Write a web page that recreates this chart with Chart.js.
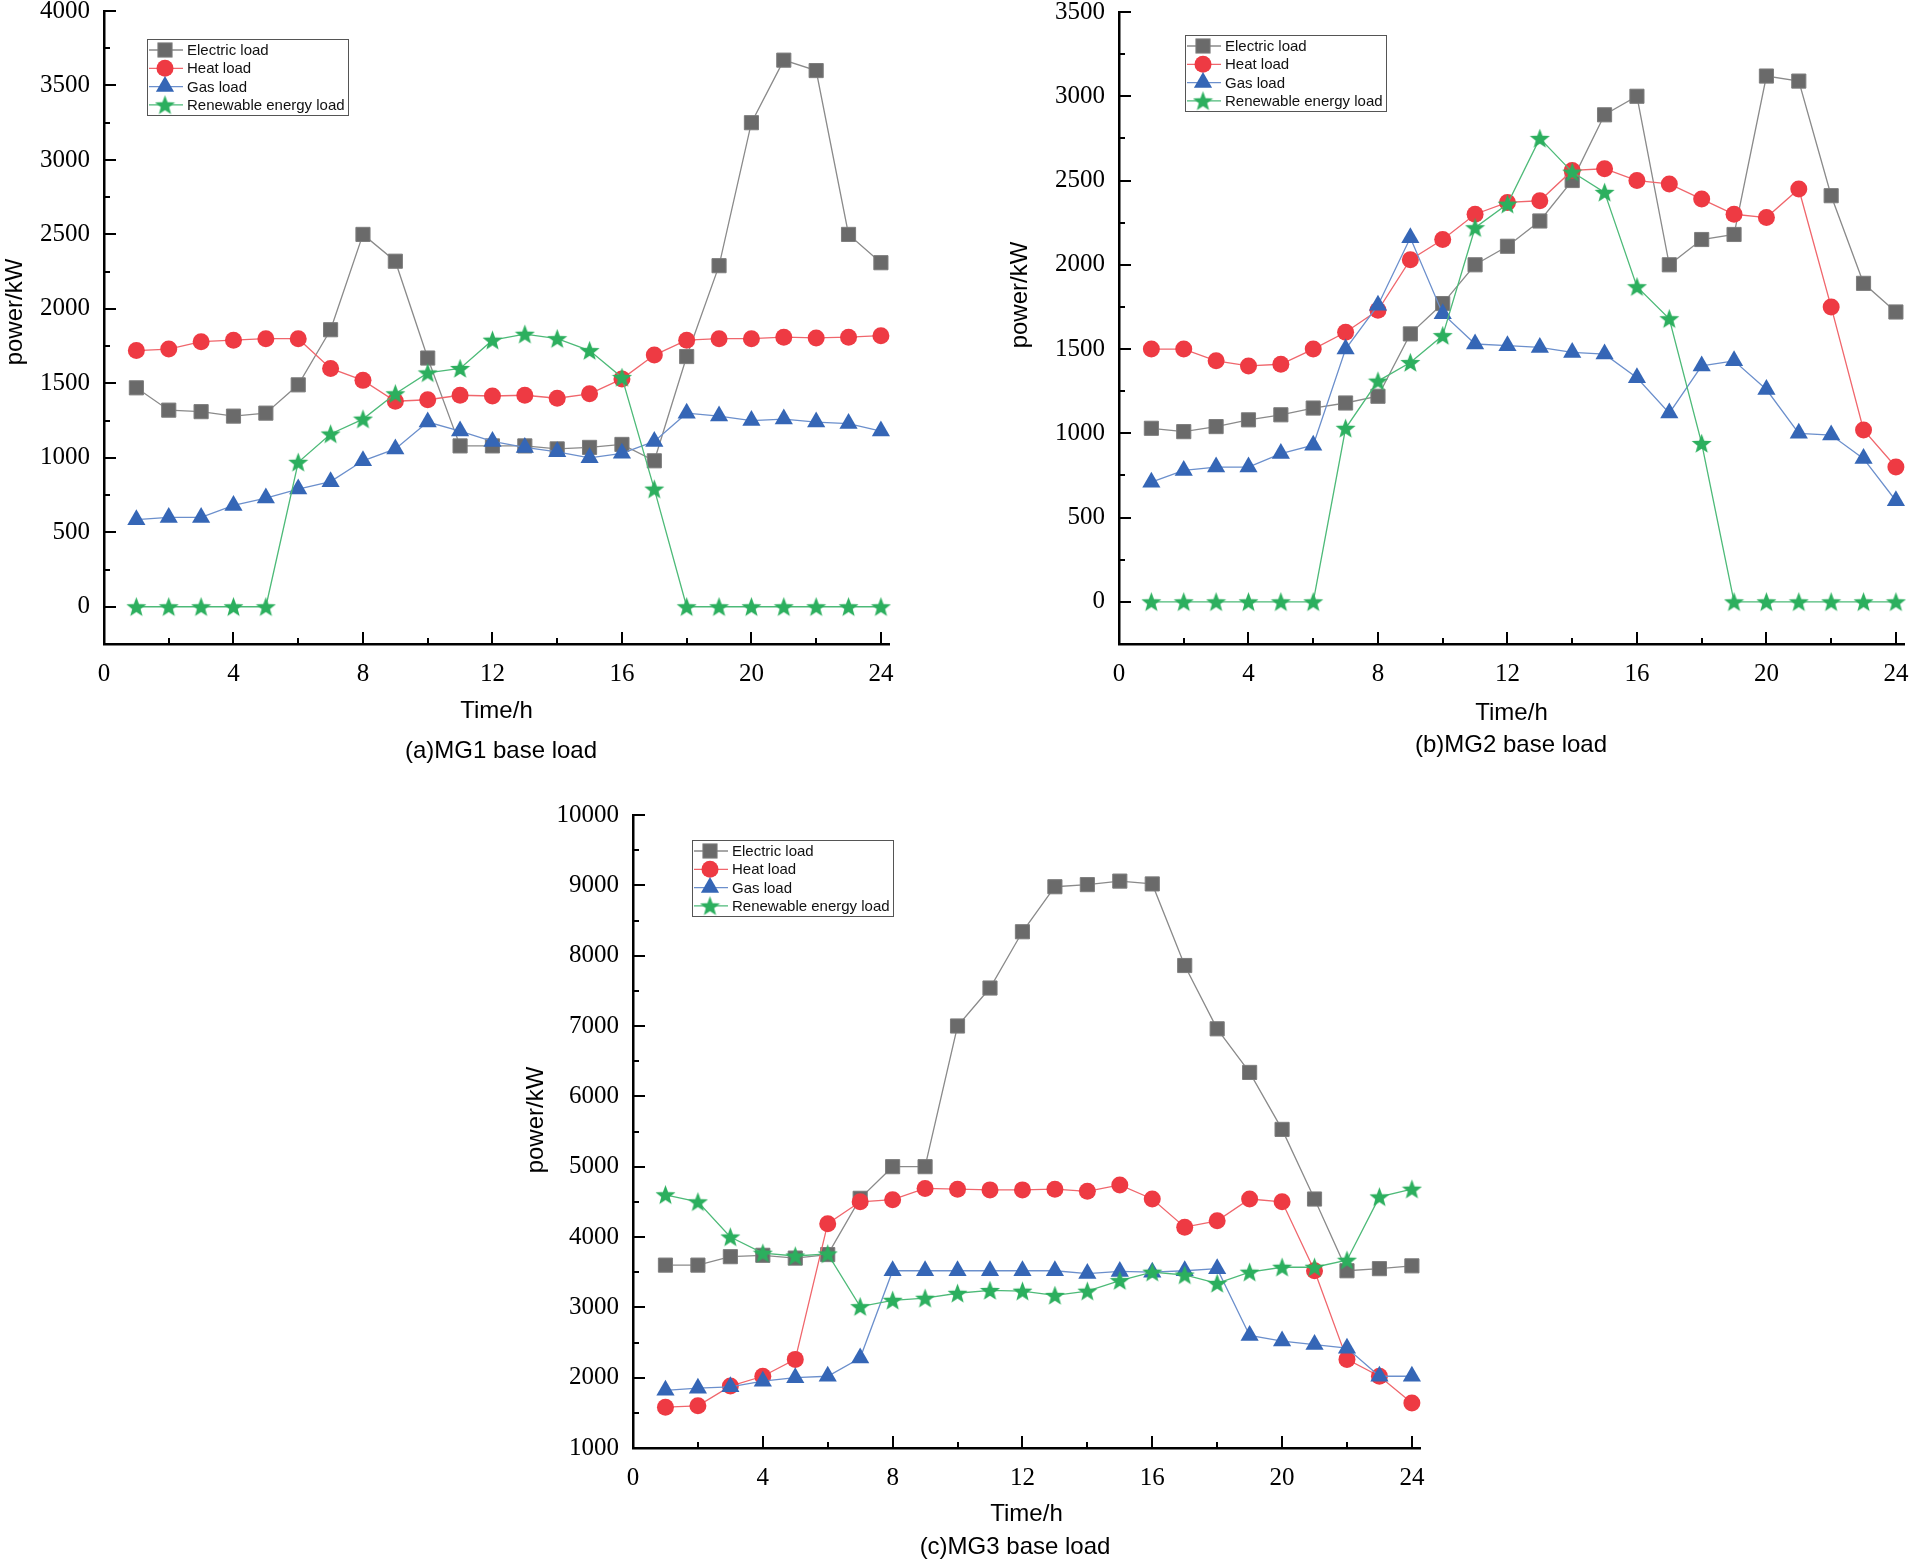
<!DOCTYPE html>
<html>
<head>
<meta charset="utf-8">
<script src="https://cdn.jsdelivr.net/npm/chart.js@4.4.1/dist/chart.umd.min.js"></script>
<style>
html, body { margin: 0; padding: 0; background: #fff; }
#page { position: relative; width: 1915px; height: 1564px; overflow: hidden; background: #fff; }
#page canvas { position: absolute; left: 0; top: 0; }
</style>
</head>
<body>
<div id="page">
  <canvas id="mg1" width="1915" height="1564"></canvas>
  <canvas id="mg2" width="1915" height="1564"></canvas>
  <canvas id="mg3" width="1915" height="1564"></canvas>
</div>
<script>
// ---- data ----
const hours = [1, 2, 3, 4, 5, 6, 7, 8, 9, 10, 11, 12, 13, 14, 15, 16, 17, 18, 19, 20, 21, 22, 23, 24];
const seriesNames = ['Electric load', 'Heat load', 'Gas load', 'Renewable energy load'];

const mg1Electric = [1470, 1320, 1310, 1280, 1300, 1490, 1860, 2500, 2320, 1670, 1080, 1080, 1080, 1060, 1070, 1090, 980, 1680, 2290, 3250, 3670, 3600, 2500, 2310];
const mg1Heat = [1720, 1730, 1780, 1790, 1800, 1800, 1600, 1520, 1380, 1390, 1420, 1415, 1420, 1400, 1430, 1530, 1690, 1790, 1800, 1800, 1810, 1805, 1810, 1820];
const mg1Gas = [585, 600, 600, 680, 730, 790, 840, 980, 1060, 1240, 1180, 1110, 1070, 1040, 1000, 1030, 1110, 1300, 1280, 1250, 1260, 1240, 1230, 1180];
const mg1Renewable = [0, 0, 0, 0, 0, 970, 1160, 1260, 1430, 1570, 1600, 1790, 1830, 1800, 1720, 1540, 790, 0, 0, 0, 0, 0, 0, 0];

const mg2Electric = [1030, 1010, 1040, 1080, 1110, 1150, 1180, 1220, 1590, 1770, 2000, 2110, 2260, 2500, 2890, 3000, 2000, 2150, 2180, 3120, 3090, 2410, 1890, 1720];
const mg2Heat = [1500, 1500, 1430, 1400, 1410, 1500, 1600, 1730, 2030, 2150, 2300, 2370, 2380, 2560, 2570, 2500, 2480, 2390, 2300, 2280, 2450, 1750, 1020, 800];
const mg2Gas = [710, 780, 800, 800, 880, 930, 1500, 1760, 2160, 1710, 1530, 1520, 1510, 1480, 1470, 1330, 1120, 1400, 1430, 1260, 1000, 990, 850, 600];
const mg2Renewable = [0, 0, 0, 0, 0, 0, 1030, 1310, 1420, 1580, 2220, 2360, 2750, 2550, 2430, 1870, 1680, 940, 0, 0, 0, 0, 0, 0];

const mg3Electric = [3600, 3600, 3720, 3740, 3700, 3750, 4550, 5000, 5000, 7000, 7540, 8340, 8980, 9010, 9060, 9020, 7860, 6960, 6340, 5530, 4540, 3520, 3550, 3590];
const mg3Heat = [1580, 1600, 1880, 2020, 2260, 4190, 4500, 4530, 4690, 4680, 4670, 4670, 4680, 4650, 4740, 4540, 4140, 4230, 4540, 4500, 3520, 2260, 2020, 1640];
const mg3Gas = [1820, 1850, 1870, 1950, 2000, 2020, 2280, 3520, 3520, 3520, 3520, 3520, 3520, 3480, 3510, 3500, 3520, 3550, 2600, 2520, 2470, 2420, 2020, 2020];
const mg3Renewable = [4600, 4500, 4000, 3770, 3730, 3760, 3010, 3100, 3130, 3200, 3240, 3230, 3170, 3230, 3380, 3500, 3460, 3340, 3500, 3570, 3570, 3670, 4570, 4680];

// tick labels
const xTickValues = [0, 4, 8, 12, 16, 20, 24];
const xMinorValues = [2, 6, 10, 14, 18, 22];
const mg1YTicks = [0, 500, 1000, 1500, 2000, 2500, 3000, 3500, 4000];
const mg2YTicks = [0, 500, 1000, 1500, 2000, 2500, 3000, 3500];
const mg3YTicks = [1000, 2000, 3000, 4000, 5000, 6000, 7000, 8000, 9000, 10000];

// ---- styles ----
const PAGE_W = 1915, PAGE_H = 1564;
const Y_AXIS_W = 90;
const SERIF = "'Liberation Serif', 'Times New Roman', serif";
const SANS = "'Liberation Sans', Arial, sans-serif";

function makeStar(color, size) {
    const c = document.createElement('canvas');
    c.width = size; c.height = size;
    const g = c.getContext('2d');
    const cx = size / 2, cy = size / 2 + 0.8, R = size / 2, r = R * 0.42;
    g.beginPath();
    for (let i = 0; i < 10; i++) {
        const rad = i % 2 === 0 ? R : r;
        const a = -Math.PI / 2 + i * Math.PI / 5;
        g.lineTo(cx + rad * Math.cos(a), cy + rad * Math.sin(a));
    }
    g.closePath();
    g.fillStyle = color;
    g.fill();
    return c;
}
const starImg = makeStar('#2caf5e', 21);

const seriesStyles = [
    { line: '#8a8a8a', fill: '#6a6a6a', edge: '#7d7d7d', point: 'rect', radius: 10, order: 4 },
    { line: '#f0666c', fill: '#ee3a43', edge: '#ee3a43', point: 'circle', radius: 8.5, order: 3 },
    { line: '#6b8fcc', fill: '#3566b6', edge: '#3566b6', point: 'triangle', radius: 10.5, order: 2 },
    { line: '#4dba78', fill: '#2caf5e', edge: '#2caf5e', point: starImg, radius: 10, order: 1 }
];

function drawMarker(ctx, st, x, y) {
    ctx.save();
    ctx.fillStyle = st.fill;
    ctx.strokeStyle = st.edge;
    ctx.lineWidth = 1;
    const r = st.radius;
    if (st.point === 'rect') {
        const s = r * Math.SQRT1_2;
        ctx.fillRect(x - s, y - s, 2 * s, 2 * s);
        ctx.strokeRect(x - s, y - s, 2 * s, 2 * s);
    } else if (st.point === 'circle') {
        ctx.beginPath(); ctx.arc(x, y, r, 0, Math.PI * 2); ctx.fill();
    } else if (st.point === 'triangle') {
        ctx.beginPath();
        ctx.moveTo(x, y - r);
        ctx.lineTo(x + r * 0.866, y + r / 2);
        ctx.lineTo(x - r * 0.866, y + r / 2);
        ctx.closePath(); ctx.fill();
    } else {
        ctx.drawImage(st.point, x - st.point.width / 2, y - st.point.height / 2);
    }
    ctx.restore();
}

// inward major/minor tick marks
const innerTicks = {
    id: 'innerTicks',
    afterDraw(chart, args, opts) {
        const { ctx, chartArea } = chart;
        const xs = chart.scales.x, ys = chart.scales.y;
        ctx.save();
        ctx.strokeStyle = '#000';
        ctx.lineWidth = 2;
        ctx.beginPath();
        xTickValues.forEach(v => {
            const px = Math.round(xs.getPixelForValue(v));
            ctx.moveTo(px, chartArea.bottom); ctx.lineTo(px, chartArea.bottom - 12);
        });
        xMinorValues.forEach(v => {
            const px = Math.round(xs.getPixelForValue(v));
            ctx.moveTo(px, chartArea.bottom); ctx.lineTo(px, chartArea.bottom - 6);
        });
        const yt = opts.yTicks;
        yt.forEach((v, i) => {
            const py = Math.round(ys.getPixelForValue(v));
            ctx.moveTo(chartArea.left, py); ctx.lineTo(chartArea.left + 12, py);
            if (i < yt.length - 1) {
                const pm = Math.round(ys.getPixelForValue((v + yt[i + 1]) / 2));
                ctx.moveTo(chartArea.left, pm); ctx.lineTo(chartArea.left + 6, pm);
            }
        });
        ctx.stroke();
        ctx.restore();
    }
};

// boxed legend, y title and panel caption
const captions = {
    id: 'captions',
    afterDraw(chart, args, opts) {
        const ctx = chart.ctx;
        ctx.save();
        // y axis title
        ctx.fillStyle = '#000';
        ctx.font = '24px ' + SANS;
        ctx.textAlign = 'center';
        ctx.textBaseline = 'middle';
        ctx.translate(opts.yTitle.x, opts.yTitle.y);
        ctx.rotate(-Math.PI / 2);
        ctx.fillText('power/kW', 0, 0);
        ctx.restore();

        ctx.save();
        ctx.fillStyle = '#000';
        ctx.font = '24px ' + SANS;
        ctx.textAlign = 'center';
        ctx.textBaseline = 'middle';
        ctx.fillText(opts.subtitle.text, opts.subtitle.x, opts.subtitle.y);

        // legend
        const L = opts.legend;
        ctx.strokeStyle = '#555';
        ctx.lineWidth = 1;
        ctx.strokeRect(L.x + 0.5, L.y + 0.5, 201, 76);
        ctx.font = '15px ' + SANS;
        ctx.textAlign = 'left';
        seriesNames.forEach((name, i) => {
            const st = seriesStyles[i];
            const cy = L.y + 11 + i * 18.3;
            ctx.strokeStyle = st.line;
            ctx.lineWidth = 1.3;
            ctx.beginPath();
            ctx.moveTo(L.x + 2, cy); ctx.lineTo(L.x + 36, cy);
            ctx.stroke();
            drawMarker(ctx, st, L.x + 18, cy);
            ctx.fillStyle = '#111';
            ctx.fillText(name, L.x + 40, cy + 1);
        });
        ctx.restore();
    }
};

const panels = [
    {
        id: 'mg1', series: [mg1Electric, mg1Heat, mg1Gas, mg1Renewable],
        yMin: -250, yMax: 4000, yTicks: mg1YTicks,
        area: { left: 104, top: 10, right: 889, bottom: 644 }, xTitleY: 711,
        yTitle: { x: 15, y: 312 }, subtitle: { text: '(a)MG1 base load', x: 501, y: 751 },
        legend: { x: 147, y: 39 }
    },
    {
        id: 'mg2', series: [mg2Electric, mg2Heat, mg2Gas, mg2Renewable],
        yMin: -250, yMax: 3500, yTicks: mg2YTicks,
        area: { left: 1119, top: 12, right: 1905, bottom: 644 }, xTitleY: 713,
        yTitle: { x: 1020, y: 295 }, subtitle: { text: '(b)MG2 base load', x: 1511, y: 745 },
        legend: { x: 1185, y: 35 }
    },
    {
        id: 'mg3', series: [mg3Electric, mg3Heat, mg3Gas, mg3Renewable],
        yMin: 1000, yMax: 10000, yTicks: mg3YTicks,
        area: { left: 633, top: 815, right: 1420, bottom: 1448 }, xTitleY: 1514,
        yTitle: { x: 536, y: 1120 }, subtitle: { text: '(c)MG3 base load', x: 1015, y: 1547 },
        legend: { x: 692, y: 840 }
    }
];

function zeroPadding(scale) {
    scale.paddingTop = 0; scale.paddingBottom = 0;
    scale.paddingLeft = 0; scale.paddingRight = 0;
}

panels.forEach(p => {
    const xAxisH = p.xTitleY + 14.4 - p.area.bottom;
    new Chart(document.getElementById(p.id), {
        type: 'line',
        data: {
            datasets: p.series.map((vals, i) => {
                const st = seriesStyles[i];
                return {
                    label: seriesNames[i],
                    data: hours.map((h, k) => ({ x: h, y: vals[k] })),
                    borderColor: st.line,
                    borderWidth: 1.3,
                    backgroundColor: st.fill,
                    pointStyle: st.point,
                    pointRadius: st.radius,
                    pointBackgroundColor: st.fill,
                    pointBorderColor: st.edge,
                    pointBorderWidth: i === 0 ? 1 : 0,
                    tension: 0,
                    order: st.order,
                    clip: false
                };
            })
        },
        options: {
            responsive: false,
            animation: false,
            devicePixelRatio: 1,
            events: [],
            layout: {
                padding: {
                    left: p.area.left - Y_AXIS_W,
                    top: p.area.top,
                    right: PAGE_W - p.area.right,
                    bottom: PAGE_H - p.area.bottom - xAxisH
                }
            },
            plugins: {
                legend: { display: false },
                tooltip: { enabled: false },
                innerTicks: { yTicks: p.yTicks },
                captions: { yTitle: p.yTitle, subtitle: p.subtitle, legend: p.legend }
            },
            scales: {
                x: {
                    type: 'linear',
                    min: 0,
                    max: 24.25,
                    afterBuildTicks: s => { s.ticks = xTickValues.map(v => ({ value: v })); },
                    afterFit: s => { s.height = xAxisH; zeroPadding(s); },
                    grid: { display: true, drawOnChartArea: false, drawTicks: false },
                    border: { display: true, color: '#000', width: 2.5 },
                    ticks: {
                        padding: 15,
                        maxRotation: 0,
                        autoSkip: false,
                        color: '#000',
                        font: { family: SERIF, size: 25 },
                        callback: v => String(v)
                    },
                    title: {
                        display: true,
                        text: 'Time/h',
                        color: '#000',
                        padding: 0,
                        font: { family: SANS, size: 24 }
                    }
                },
                y: {
                    type: 'linear',
                    min: p.yMin,
                    max: p.yMax,
                    afterBuildTicks: s => { s.ticks = p.yTicks.map(v => ({ value: v })); },
                    afterFit: s => { s.width = Y_AXIS_W; zeroPadding(s); },
                    grid: { display: true, drawOnChartArea: false, drawTicks: false },
                    border: { display: true, color: '#000', width: 2.5 },
                    ticks: {
                        padding: 14,
                        autoSkip: false,
                        color: '#000',
                        font: { family: SERIF, size: 25 },
                        callback: v => String(v)
                    }
                }
            }
        },
        plugins: [innerTicks, captions]
    });
});
</script>
</body>
</html>
